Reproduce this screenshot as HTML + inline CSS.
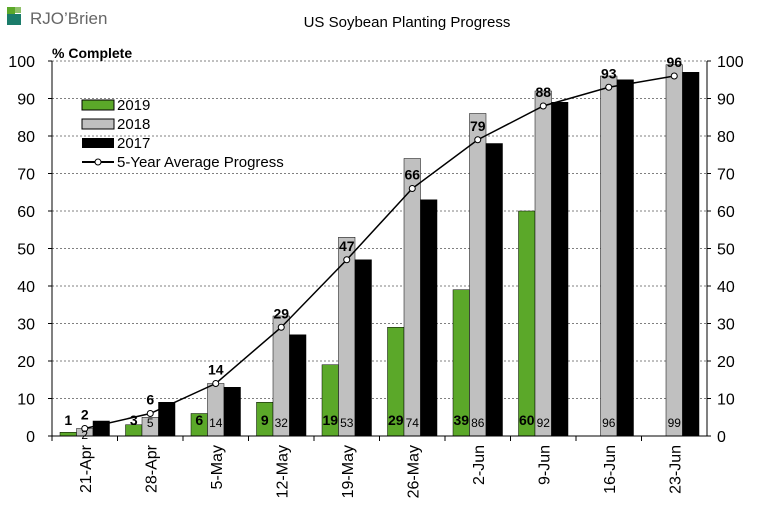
<!DOCTYPE html>
<html><head><meta charset="utf-8"><style>
body{margin:0;background:#fff;font-family:"Liberation Sans",Arial,sans-serif}
</style></head><body>
<svg id="c" width="758" height="514" xmlns="http://www.w3.org/2000/svg" font-family="Liberation Sans, Arial, sans-serif">
<g>
<rect x="7" y="7" width="8" height="12" fill="#5ba829"/>
<rect x="7" y="14" width="14" height="11" fill="#1b7c6a"/>
<rect x="15" y="7" width="6" height="6" fill="#8fc16a"/>
<text x="30" y="24" font-size="17" fill="#666">RJO’Brien</text>
</g>
<text x="407" y="27" font-size="15" text-anchor="middle">US Soybean Planting Progress</text>
<text x="52" y="58" font-size="14" font-weight="bold">% Complete</text>
<g id="grid"></g><g id="bars"></g><g id="line"></g><g id="axes"></g><g id="lbl"></g>
<g>
<rect x="82" y="100" width="32" height="10" fill="#5ba829" stroke="#000"/><text x="117" y="110" font-size="15">2019</text>
<rect x="82" y="119" width="32" height="10" fill="#c0c0c0" stroke="#000"/><text x="117" y="129" font-size="15">2018</text>
<rect x="82" y="138" width="32" height="10" fill="#000"/><text x="117" y="148" font-size="15">2017</text>
<line x1="82" y1="162" x2="114" y2="162" stroke="#000" stroke-width="2"/><circle cx="98" cy="162" r="3" fill="#fff" stroke="#000"/><text x="117" y="167" font-size="15">5-Year Average Progress</text>
</g>
</svg>
<script>
const categories=["21-Apr","28-Apr","5-May","12-May","19-May","26-May","2-Jun","9-Jun","16-Jun","23-Jun"];
const s2019=[1,3,6,9,19,29,39,60,null,null];
const s2018=[2,5,14,32,53,74,86,92,96,99];
const s2017=[4,9,13,27,47,63,78,89,95,97];
const avg=[2,6,14,29,47,66,79,88,93,96];
const ticks=[0,10,20,30,40,50,60,70,80,90,100];
const NS="http://www.w3.org/2000/svg";
const L=52,R=707,T=61,B=436,cw=(R-L)/categories.length,bw=16.5;
const y=v=>B-(v/100)*(B-T);
const xc=i=>L+cw*(i+0.5);
function mk(p,tag,a,txt){const e=document.createElementNS(NS,tag);for(const k in a)e.setAttribute(k,a[k]);if(txt!=null)e.textContent=txt;document.getElementById(p).appendChild(e);return e;}
ticks.forEach(t=>{
 if(t>0){const g=mk('grid','line',{x1:L,x2:R,y1:y(t),y2:y(t),stroke:'#000','stroke-dasharray':'2,2','stroke-width':0.5});
 
 }
 const a=mk('axes','text',{x:35,y:y(t)+6,'font-size':16,'text-anchor':'end'},t);
 
 
 const b=mk('axes','text',{x:717,y:y(t)+6,'font-size':16},t);
 
 
 mk('axes','line',{x1:L-4,x2:L,y1:y(t),y2:y(t),stroke:'#000'});
 mk('axes','line',{x1:R,x2:R+4,y1:y(t),y2:y(t),stroke:'#000'});
});
mk('axes','line',{x1:L,x2:L,y1:T,y2:B,stroke:'#000'});
mk('axes','line',{x1:R,x2:R,y1:T,y2:B,stroke:'#000'});
mk('axes','line',{x1:L,x2:R,y1:B,y2:B,stroke:'#000'});
categories.forEach((c,i)=>{
 mk('axes','line',{x1:L+cw*i,x2:L+cw*i,y1:B,y2:B+5,stroke:'#000'});
 const cx=xc(i);
 const t=mk('axes','text',{x:cx+6,y:B+9,'font-size':16,'text-anchor':'end',transform:`rotate(-90 ${cx+6} ${B+9})`},c);
 
 
 [[s2019,'#5ba829',-1,'bar-2019'],[s2018,'#c0c0c0',0,'bar-2018'],[s2017,'#000',1,'bar-2017']].forEach(([s,col,o,n])=>{
  if(s[i]==null)return;
  const r=mk('bars','rect',{x:cx+o*bw-bw/2,y:y(s[i]),width:bw,height:B-y(s[i]),fill:col,stroke:'#000','stroke-width':0.5});
  
  
 });
 if(s2019[i]!=null){const l=mk('lbl','text',{x:cx-bw,y:425,'font-size':14,'font-weight':'bold','text-anchor':'middle'},s2019[i]);
  
  }
 const l2=mk('lbl','text',{x:cx,y:s2018[i]<4?439:427,'font-size':12,'text-anchor':'middle'},s2018[i]);
 
 
 const l3=mk('lbl','text',{x:cx,y:y(avg[i])-9,'font-size':14,'font-weight':'bold','text-anchor':'middle'},avg[i]);
 
 
});
const pl=mk('line','polyline',{points:avg.map((v,i)=>xc(i)+','+y(v)).join(' '),fill:'none',stroke:'#000','stroke-width':1.5});


avg.forEach((v,i)=>{const p=mk('line','circle',{cx:xc(i),cy:y(v),r:3,fill:'#fff',stroke:'#000'});
 
 });
</script>
</body></html>
